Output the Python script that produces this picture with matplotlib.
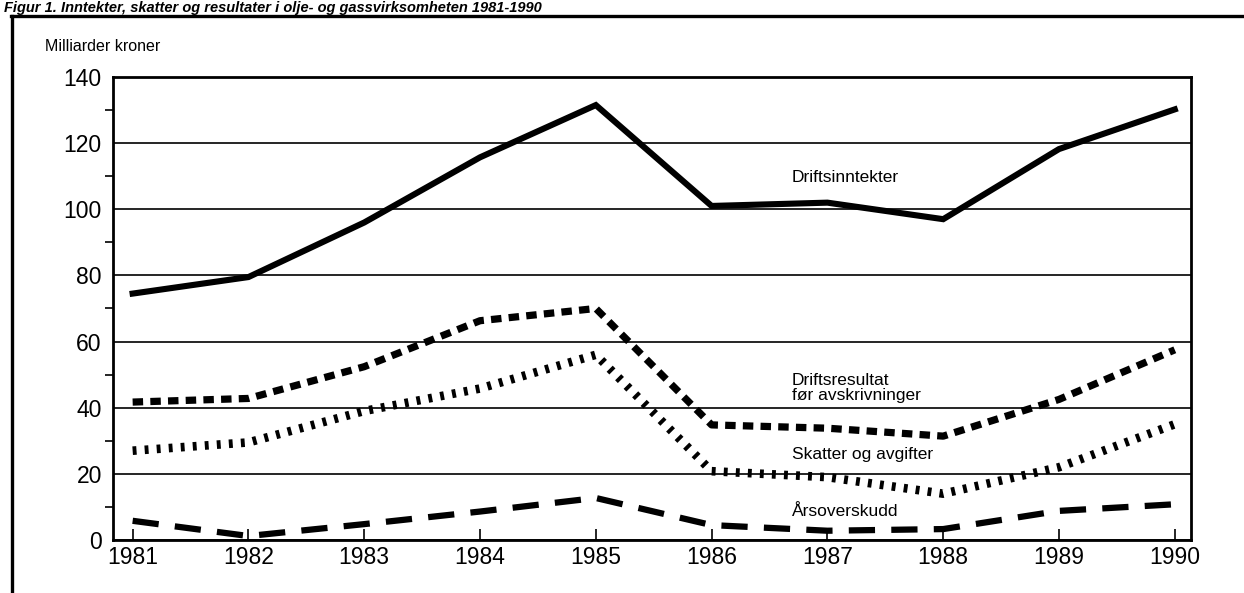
import matplotlib
matplotlib.use('Agg')
from matplotlib import pyplot as plt
from matplotlib.lines import Line2D

plt.rcParams['font.family'] = ['Liberation Sans', 'DejaVu Sans']

years = [1981, 1982, 1983, 1984, 1985, 1986, 1987, 1988, 1989, 1990]
driftsinntekter = [74.5, 79.5, 96.0, 115.7, 131.5, 101.0, 102.0, 97.0, 118.2, 130.2]
driftsresultat = [41.7, 42.8, 52.4, 66.3, 70.0, 34.8, 33.8, 31.4, 42.5, 57.5]
skatter = [27.0, 29.5, 39.0, 45.8, 56.0, 20.8, 19.0, 14.0, 22.0, 35.0]
aarsoverskudd = [5.8, 1.2, 4.8, 8.6, 12.7, 4.5, 2.8, 3.3, 8.8, 10.8]

title = 'Figur 1. Inntekter, skatter og resultater i olje- og gassvirksomheten 1981-1990'
y_label = 'Milliarder kroner'
series_labels = ['Driftsinntekter', 'Driftsresultat\nfør avskrivninger',
                 'Skatter og avgifter', 'Årsoverskudd']
label_pos = [(1986.69, 109.5), (1986.69, 46.0), (1986.69, 25.7), (1986.69, 8.6)]

fig = plt.figure(figsize=(12.44, 5.93), dpi=100)
ax = fig.add_axes([0.0908, 0.0894, 0.8666, 0.7808])

# the four series
ax.plot(years, driftsinntekter, color='black', lw=4.4, solid_joinstyle='miter')
ax.plot(years, driftsresultat, color='black', lw=5.2, linestyle=(0, (1.45, 1.0)),
        dash_capstyle='butt')
ax.plot(years, skatter, color='black', lw=6.2, linestyle=(0, (0.45, 0.95)),
        dash_capstyle='butt')
ax.plot(years, aarsoverskudd, color='black', lw=4.5, linestyle=(0, (4.2, 2.6)),
        dash_capstyle='butt')

for text, (x, y) in zip(series_labels, label_pos):
    ax.text(x, y, text, fontsize=12.5, ha='left', va='center', linespacing=0.95)

ax.set_xlim(1980.83, 1990.14)
ax.set_ylim(0, 140)
ax.set_xticks(years)
ax.set_yticks(range(0, 141, 20))
ax.set_yticks(range(10, 140, 20), minor=True)
ax.tick_params(axis='both', labelsize=16.5, direction='in')
ax.tick_params(axis='x', length=8, width=1.2, pad=4)
ax.tick_params(axis='y', which='major', length=0, pad=8)
ax.tick_params(axis='y', which='minor', length=6, width=1.2)
ax.grid(axis='y', color='black', lw=1.2)
ax.set_axisbelow(True)
for side in ['left', 'right', 'top', 'bottom']:
    ax.spines[side].set_linewidth(2.0)

fig.text(0.036, 0.921, y_label, fontsize=11.5, ha='left', va='center')

# figure title above the page frame
fig.text(0.003, 0.999, title, fontsize=10.5, fontweight='bold', fontstyle='italic',
         ha='left', va='top')
fig.add_artist(Line2D([12 / 1244, 12 / 1244], [0, 1 - 16 / 593],
                      color='black', lw=2.4, transform=fig.transFigure))
fig.add_artist(Line2D([11 / 1244, 1], [1 - 16 / 593, 1 - 16 / 593],
                      color='black', lw=2.4, transform=fig.transFigure))

fig.savefig('out.png', dpi=100)
